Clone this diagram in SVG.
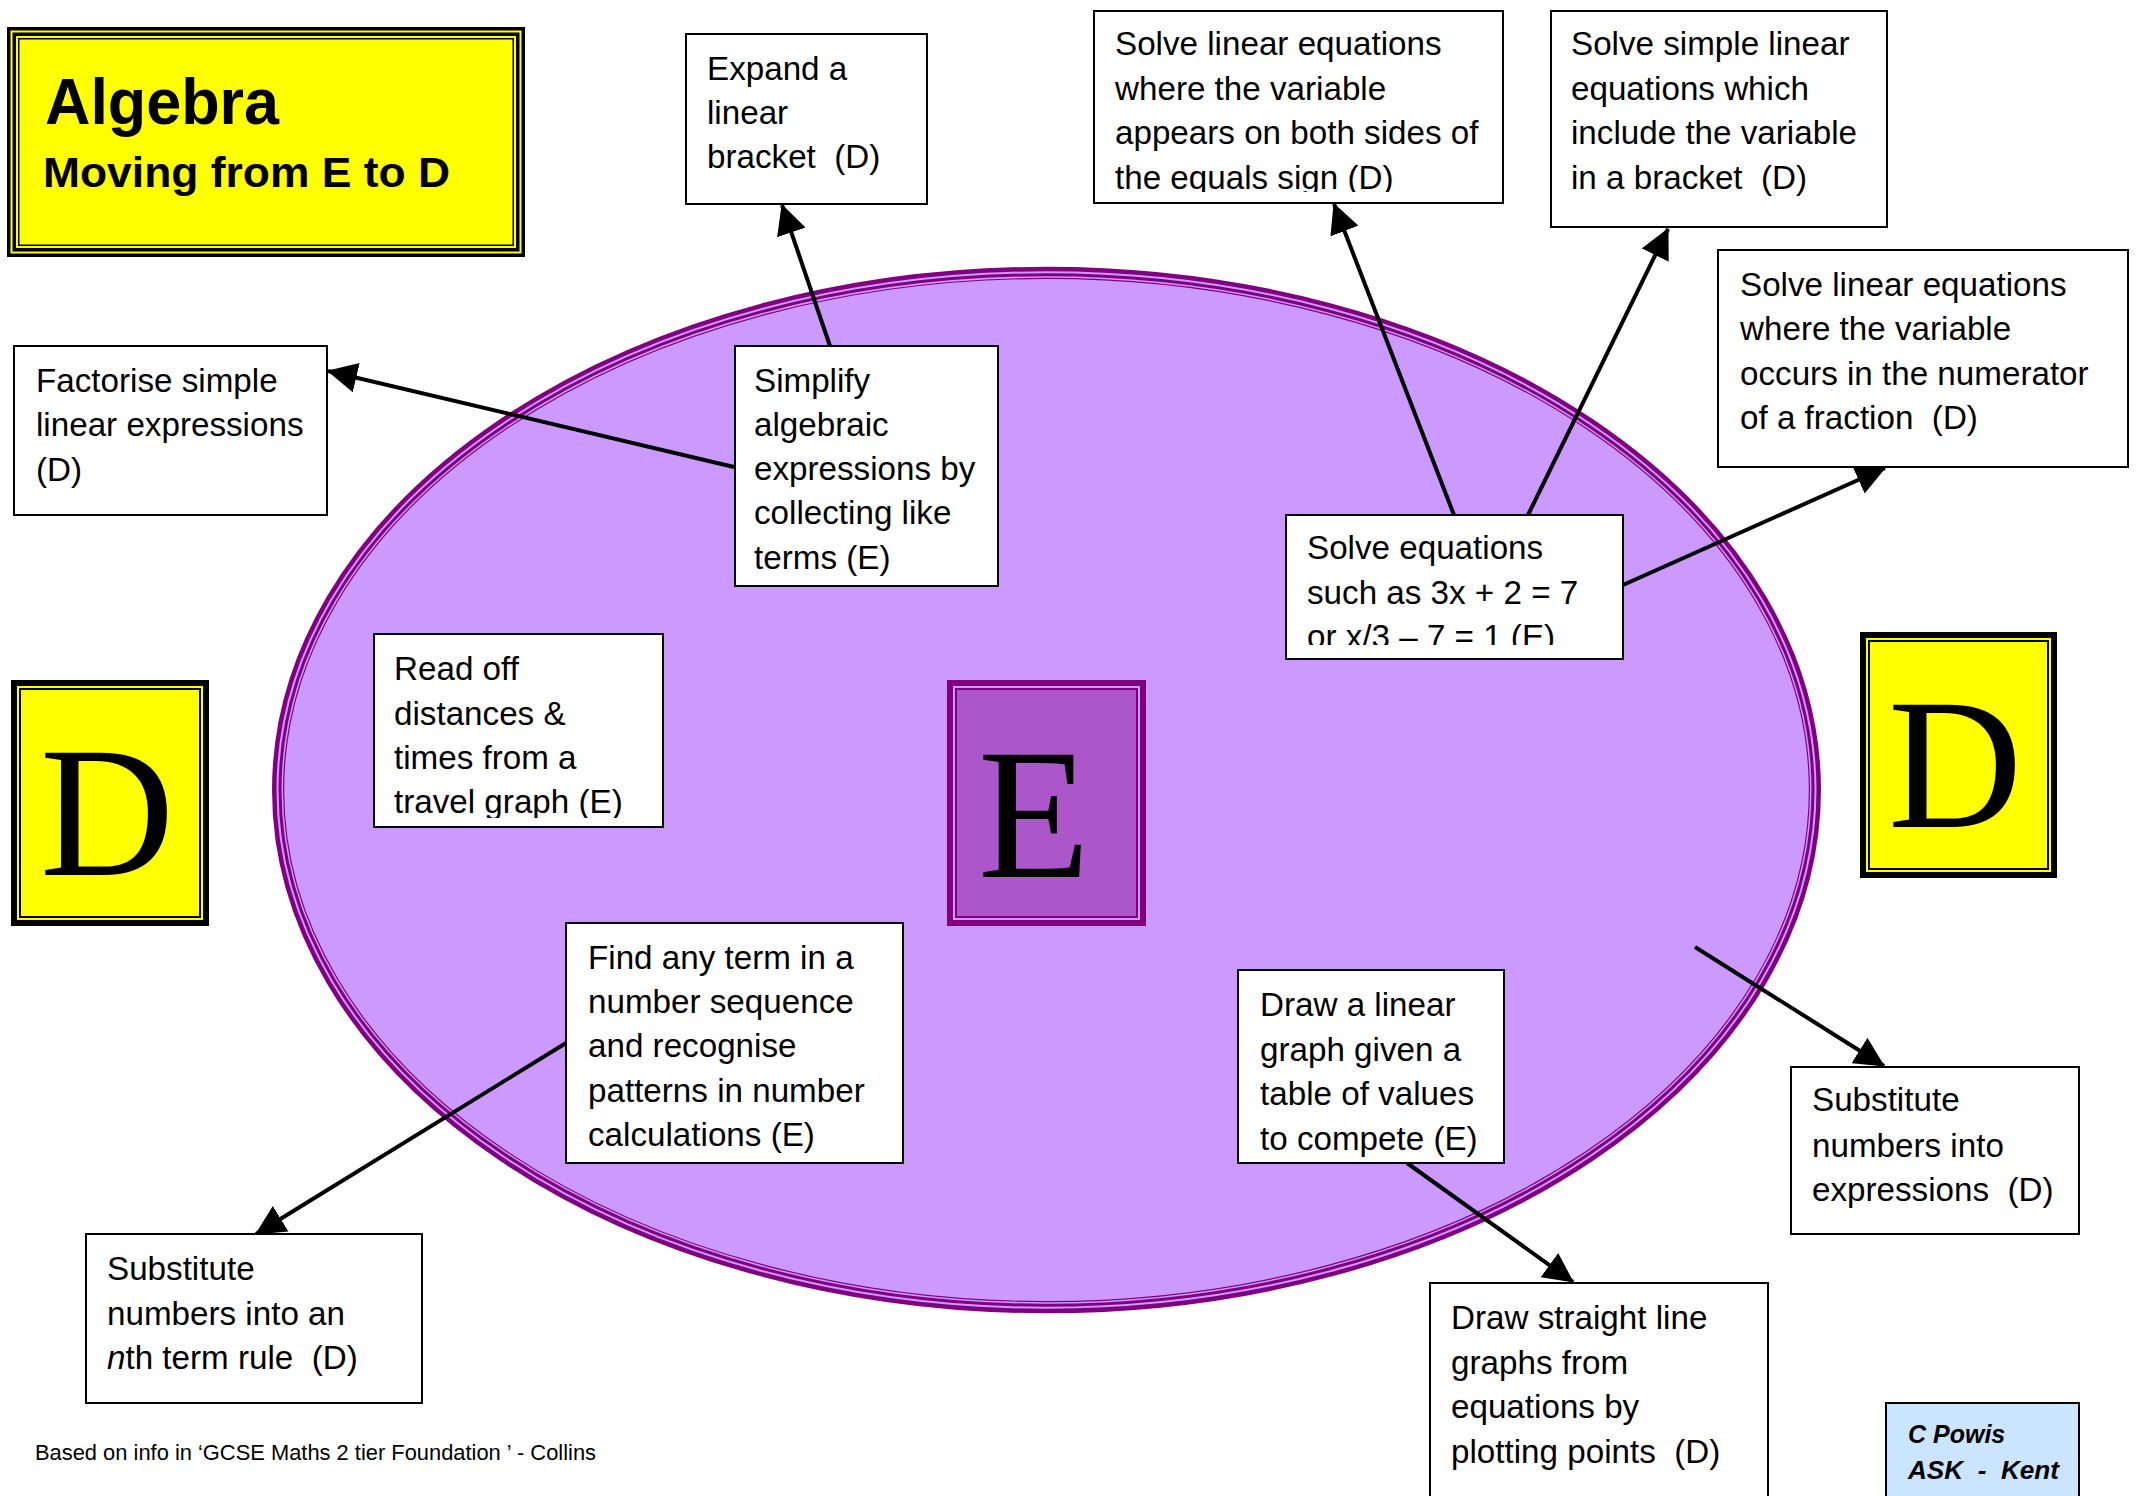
<svg xmlns="http://www.w3.org/2000/svg" width="2138" height="1496" viewBox="0 0 2138 1496">
<style>
.box{fill:#fff;stroke:#000;stroke-width:2}
.t{font-family:"Liberation Sans",Arial,sans-serif;font-size:33.2px;fill:#000}
.big{font-family:"Liberation Serif","Times New Roman",serif;font-size:186px;fill:#000}
.conn line{stroke:#000;stroke-width:4;marker-end:url(#ah)}
</style>
<defs>
<marker id="ah" markerUnits="userSpaceOnUse" viewBox="0 0 30 30" refX="29" refY="15" markerWidth="30" markerHeight="30" orient="auto">
<path d="M0,0 L30,15 L0,30 z" fill="#000"/>
</marker>
<clipPath id="c1"><rect x="1094" y="11" width="409" height="181"/></clipPath>
<clipPath id="c2"><rect x="1286" y="515" width="337" height="130"/></clipPath>
<clipPath id="c3"><rect x="374" y="634" width="289" height="184"/></clipPath>
</defs>
<rect width="2138" height="1496" fill="#fff"/>

<g id="ellipse">
<ellipse cx="1046.5" cy="790" rx="772.25" ry="521" fill="#CC99FF" stroke="#800080" stroke-width="4.5"/>
<ellipse cx="1046.5" cy="790" rx="766.5" ry="515.25" fill="none" stroke="#800080" stroke-width="3"/>
<ellipse cx="1046.5" cy="790" rx="762.9" ry="511.6" fill="none" stroke="#800080" stroke-width="1.2"/>
</g>

<g id="title">
<rect x="7" y="27" width="518" height="230" fill="#000"/>
<rect x="10.5" y="30.5" width="511" height="223" fill="#FFFF00"/>
<rect x="12.5" y="32.5" width="507" height="219" fill="#000"/>
<rect x="16" y="36" width="500" height="212" fill="#FFFF00"/>
<rect x="18.75" y="38.75" width="494.5" height="206.5" fill="none" stroke="#000" stroke-width="1.5"/>
<text x="45" y="124" font-family="'Liberation Sans',Arial,sans-serif" font-weight="bold" font-size="64" textLength="234" lengthAdjust="spacingAndGlyphs">Algebra</text>
<text x="43" y="187" font-family="'Liberation Sans',Arial,sans-serif" font-weight="bold" font-size="43" textLength="407" lengthAdjust="spacingAndGlyphs">Moving from E to D</text>
</g>

<g id="d-left">
<rect x="11" y="680" width="198" height="246" fill="#000"/>
<rect x="17" y="686" width="186" height="234" fill="#FFFF00"/>
<rect x="20" y="689" width="180" height="228" fill="none" stroke="#000" stroke-width="2"/>
<text class="big" x="40" y="875">D</text>
</g>

<g id="d-right">
<rect x="1860" y="632" width="197" height="246" fill="#000"/>
<rect x="1866" y="638" width="185" height="234" fill="#FFFF00"/>
<rect x="1869" y="641" width="179" height="228" fill="none" stroke="#000" stroke-width="2"/>
<text class="big" x="1888" y="827">D</text>
</g>

<g id="e-box">
<rect x="947" y="680" width="199" height="246" fill="#800080"/>
<rect x="953" y="686" width="187" height="234" fill="#CC99FF"/>
<rect x="955" y="688" width="183" height="230" fill="#800080"/>
<rect x="957" y="690" width="179" height="226" fill="#AB57C9"/>
<text class="big" x="978" y="877" textLength="112" lengthAdjust="spacingAndGlyphs">E</text>
</g>

<g class="conn" id="connectors">
<line x1="830" y1="346" x2="782" y2="205"/>
<line x1="734" y1="467" x2="328" y2="371"/>
<line x1="1454" y1="515" x2="1334" y2="204"/>
<line x1="1528" y1="515" x2="1668" y2="229"/>
<line x1="1623" y1="585" x2="1885" y2="468"/>
<line x1="566" y1="1043" x2="256" y2="1234"/>
<line x1="1407" y1="1163" x2="1573" y2="1282"/>
<line x1="1695" y1="947" x2="1884" y2="1066"/>
</g>

<g id="factorise">
<rect class="box" x="14" y="346" width="313" height="169"/>
<text class="t" x="36" y="392">Factorise simple</text>
<text class="t" x="36" y="436">linear expressions</text>
<text class="t" x="36" y="481">(D)</text>
</g>

<g id="expand">
<rect class="box" x="686" y="34" width="241" height="170"/>
<text class="t" x="707" y="80">Expand a</text>
<text class="t" x="707" y="124">linear</text>
<text class="t" x="707" y="168" xml:space="preserve">bracket  (D)</text>
</g>

<g id="simplify">
<rect class="box" x="735" y="346" width="263" height="240"/>
<text class="t" x="754" y="392">Simplify</text>
<text class="t" x="754" y="436">algebraic</text>
<text class="t" x="754" y="480">expressions by</text>
<text class="t" x="754" y="524">collecting like</text>
<text class="t" x="754" y="569">terms (E)</text>
</g>

<g id="solve-both-sides">
<rect class="box" x="1094" y="11" width="409" height="192"/>
<g clip-path="url(#c1)">
<text class="t" x="1115" y="55">Solve linear equations</text>
<text class="t" x="1115" y="100">where the variable</text>
<text class="t" x="1115" y="144">appears on both sides of</text>
<text class="t" x="1115" y="189">the equals sign (D)</text>
</g>
</g>

<g id="solve-bracket">
<rect class="box" x="1551" y="11" width="336" height="216"/>
<text class="t" x="1571" y="55">Solve simple linear</text>
<text class="t" x="1571" y="100">equations which</text>
<text class="t" x="1571" y="144">include the variable</text>
<text class="t" x="1571" y="189" xml:space="preserve">in a bracket  (D)</text>
</g>

<g id="solve-fraction">
<rect class="box" x="1718" y="250" width="410" height="217"/>
<text class="t" x="1740" y="296">Solve linear equations</text>
<text class="t" x="1740" y="340">where the variable</text>
<text class="t" x="1740" y="385">occurs in the numerator</text>
<text class="t" x="1740" y="429" xml:space="preserve">of a fraction  (D)</text>
</g>

<g id="solve-equations">
<rect class="box" x="1286" y="515" width="337" height="144"/>
<g clip-path="url(#c2)">
<text class="t" x="1307" y="559">Solve equations</text>
<text class="t" x="1307" y="604">such as 3x + 2 = 7</text>
<text class="t" x="1307" y="648">or x/3 – 7 = 1 (E)</text>
</g>
</g>

<g id="read-off">
<rect class="box" x="374" y="634" width="289" height="193"/>
<g clip-path="url(#c3)">
<text class="t" x="394" y="680">Read off</text>
<text class="t" x="394" y="725">distances &amp;</text>
<text class="t" x="394" y="769">times from a</text>
<text class="t" x="394" y="813">travel graph (E)</text>
</g>
</g>

<g id="find-term">
<rect class="box" x="566" y="923" width="337" height="240"/>
<text class="t" x="588" y="969">Find any term in a</text>
<text class="t" x="588" y="1013">number sequence</text>
<text class="t" x="588" y="1057">and recognise</text>
<text class="t" x="588" y="1102">patterns in number</text>
<text class="t" x="588" y="1146">calculations (E)</text>
</g>

<g id="substitute-nth">
<rect class="box" x="86" y="1234" width="336" height="169"/>
<text class="t" x="107" y="1280">Substitute</text>
<text class="t" x="107" y="1325">numbers into an</text>
<text class="t" x="107" y="1369" xml:space="preserve"><tspan font-style="italic">n</tspan>th term rule  (D)</text>
</g>

<g id="draw-linear">
<rect class="box" x="1238" y="970" width="266" height="193"/>
<text class="t" x="1260" y="1016">Draw a linear</text>
<text class="t" x="1260" y="1061">graph given a</text>
<text class="t" x="1260" y="1105">table of values</text>
<text class="t" x="1260" y="1150">to compete (E)</text>
</g>

<g id="draw-straight">
<rect class="box" x="1430" y="1283" width="338" height="230"/>
<text class="t" x="1451" y="1329">Draw straight line</text>
<text class="t" x="1451" y="1374">graphs from</text>
<text class="t" x="1451" y="1418">equations by</text>
<text class="t" x="1451" y="1463" xml:space="preserve">plotting points  (D)</text>
</g>

<g id="substitute-expr">
<rect class="box" x="1791" y="1067" width="288" height="167"/>
<text class="t" x="1812" y="1111">Substitute</text>
<text class="t" x="1812" y="1157">numbers into</text>
<text class="t" x="1812" y="1201" xml:space="preserve">expressions  (D)</text>
</g>

<g id="credit">
<rect x="1886" y="1403" width="193" height="110" fill="#CCE5FF" stroke="#000" stroke-width="2"/>
<text x="1908" y="1443" font-family="'Liberation Sans',Arial,sans-serif" font-weight="bold" font-style="italic" font-size="25">C Powis</text>
<text x="1908" y="1479" font-family="'Liberation Sans',Arial,sans-serif" font-weight="bold" font-style="italic" font-size="25" textLength="151" lengthAdjust="spacingAndGlyphs" xml:space="preserve">ASK  -  Kent</text>
</g>

<g id="footer">
<text x="35" y="1460" font-family="'Liberation Sans',Arial,sans-serif" font-size="22" textLength="561" lengthAdjust="spacingAndGlyphs">Based on info in ‘GCSE Maths 2 tier Foundation ’ - Collins</text>
</g>
</svg>
